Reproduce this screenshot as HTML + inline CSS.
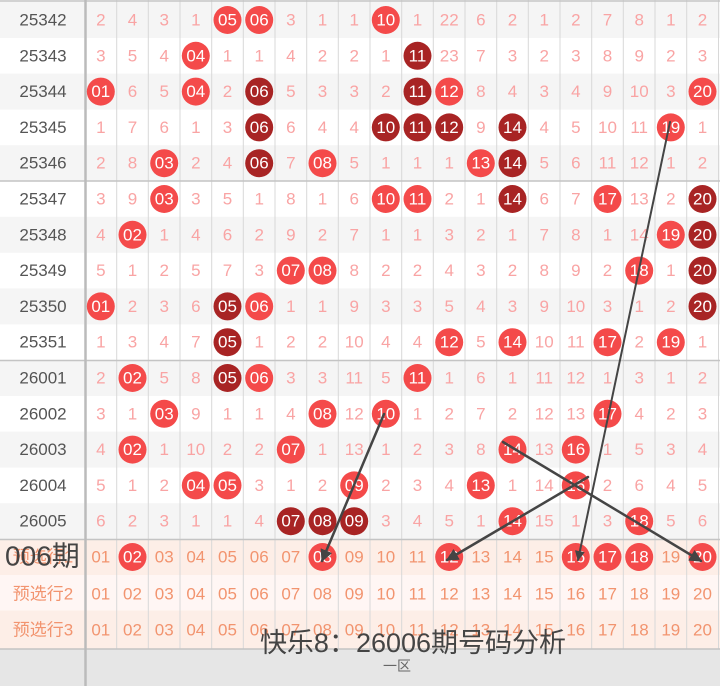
<!DOCTYPE html>
<html><head><meta charset="utf-8"><style>
html,body{margin:0;padding:0;background:#fff;}
svg{display:block}
text{font-family:"Liberation Sans","Noto Sans CJK SC",sans-serif;font-size:17px;text-anchor:middle;dominant-baseline:central;}
.m{fill:#f9a4a4}.b{fill:#fff}.p{fill:#555}.o{fill:#f2946f}
.r{fill:#f44a4a}.d{fill:#a82424}
</style></head><body>
<svg width="720" height="686" viewBox="0 0 720 686" xmlns="http://www.w3.org/2000/svg">
<defs><marker id="ah" viewBox="0 0 10 10" refX="9" refY="5" markerWidth="5" markerHeight="5" orient="auto"><path d="M0,0 L10,5 L0,10 z" fill="#444"/></marker></defs>
<rect x="0" y="0" width="720" height="686" fill="#fff"/>
<g fill="#f5f5f5">
<rect x="0" y="2" width="720" height="36"/><rect x="0" y="73.6" width="720" height="36"/><rect x="0" y="145.2" width="720" height="36"/>
<rect x="0" y="216.8" width="720" height="36"/><rect x="0" y="288.4" width="720" height="36"/><rect x="0" y="360" width="720" height="36"/>
<rect x="0" y="431.6" width="720" height="36"/><rect x="0" y="503.2" width="720" height="36"/>
</g>
<rect x="0" y="539" width="720" height="36" fill="#fdeee7"/>
<rect x="0" y="575" width="720" height="36" fill="#fff6f4"/>
<rect x="0" y="610.6" width="720" height="38" fill="#fdeee7"/>
<rect x="0" y="649" width="720" height="37" fill="#e6e6e6"/>
<g stroke="#d8d8d8" stroke-width="1">
<line x1="116.7" y1="0" x2="116.7" y2="649"/><line x1="148.3" y1="0" x2="148.3" y2="649"/><line x1="180" y1="0" x2="180" y2="649"/><line x1="211.7" y1="0" x2="211.7" y2="649"/><line x1="243.3" y1="0" x2="243.3" y2="649"/><line x1="275" y1="0" x2="275" y2="649"/><line x1="306.7" y1="0" x2="306.7" y2="649"/><line x1="338.3" y1="0" x2="338.3" y2="649"/><line x1="370" y1="0" x2="370" y2="649"/><line x1="401.7" y1="0" x2="401.7" y2="649"/><line x1="433.3" y1="0" x2="433.3" y2="649"/><line x1="465" y1="0" x2="465" y2="649"/><line x1="496.7" y1="0" x2="496.7" y2="649"/><line x1="528.3" y1="0" x2="528.3" y2="649"/><line x1="560" y1="0" x2="560" y2="649"/><line x1="591.7" y1="0" x2="591.7" y2="649"/><line x1="623.3" y1="0" x2="623.3" y2="649"/><line x1="655" y1="0" x2="655" y2="649"/><line x1="686.7" y1="0" x2="686.7" y2="649"/><line x1="718.5" y1="0" x2="718.5" y2="649"/>
</g>
<g stroke="#c4c4c4" stroke-width="1.5">
<line x1="0" y1="1" x2="720" y2="1"/><line x1="0" y1="181" x2="720" y2="181"/><line x1="0" y1="360.5" x2="720" y2="360.5"/><line x1="0" y1="539.5" x2="720" y2="539.5"/><line x1="0" y1="649" x2="720" y2="649"/>
</g>
<line x1="85.5" y1="0" x2="85.5" y2="686" stroke="#bbb" stroke-width="2.5"/>

<g transform="translate(0,20)">
<text class="p" x="43" y="0">25342</text>
<text class="m" x="100.8" y="0">2</text><text class="m" x="132.5" y="0">4</text><text class="m" x="164.2" y="0">3</text><text class="m" x="195.8" y="0">1</text>
<circle class="r" cx="227.5" cy="0" r="14"/><text class="b" x="227.5" y="0">05</text>
<circle class="r" cx="259.2" cy="0" r="14"/><text class="b" x="259.2" y="0">06</text>
<text class="m" x="290.8" y="0">3</text><text class="m" x="322.5" y="0">1</text><text class="m" x="354.2" y="0">1</text>
<circle class="r" cx="385.8" cy="0" r="14"/><text class="b" x="385.8" y="0">10</text>
<text class="m" x="417.5" y="0">1</text><text class="m" x="449.2" y="0">22</text><text class="m" x="480.8" y="0">6</text><text class="m" x="512.5" y="0">2</text><text class="m" x="544.2" y="0">1</text><text class="m" x="575.8" y="0">2</text><text class="m" x="607.5" y="0">7</text><text class="m" x="639.2" y="0">8</text><text class="m" x="670.8" y="0">1</text><text class="m" x="702.5" y="0">2</text>
</g>
<g transform="translate(0,55.8)">
<text class="p" x="43" y="0">25343</text>
<text class="m" x="100.8" y="0">3</text><text class="m" x="132.5" y="0">5</text><text class="m" x="164.2" y="0">4</text>
<circle class="r" cx="195.8" cy="0" r="14"/><text class="b" x="195.8" y="0">04</text>
<text class="m" x="227.5" y="0">1</text><text class="m" x="259.2" y="0">1</text><text class="m" x="290.8" y="0">4</text><text class="m" x="322.5" y="0">2</text><text class="m" x="354.2" y="0">2</text><text class="m" x="385.8" y="0">1</text>
<circle class="d" cx="417.5" cy="0" r="14"/><text class="b" x="417.5" y="0">11</text>
<text class="m" x="449.2" y="0">23</text><text class="m" x="480.8" y="0">7</text><text class="m" x="512.5" y="0">3</text><text class="m" x="544.2" y="0">2</text><text class="m" x="575.8" y="0">3</text><text class="m" x="607.5" y="0">8</text><text class="m" x="639.2" y="0">9</text><text class="m" x="670.8" y="0">2</text><text class="m" x="702.5" y="0">3</text>
</g>
<g transform="translate(0,91.6)">
<text class="p" x="43" y="0">25344</text>
<circle class="r" cx="100.8" cy="0" r="14"/><text class="b" x="100.8" y="0">01</text>
<text class="m" x="132.5" y="0">6</text><text class="m" x="164.2" y="0">5</text>
<circle class="r" cx="195.8" cy="0" r="14"/><text class="b" x="195.8" y="0">04</text>
<text class="m" x="227.5" y="0">2</text>
<circle class="d" cx="259.2" cy="0" r="14"/><text class="b" x="259.2" y="0">06</text>
<text class="m" x="290.8" y="0">5</text><text class="m" x="322.5" y="0">3</text><text class="m" x="354.2" y="0">3</text><text class="m" x="385.8" y="0">2</text>
<circle class="d" cx="417.5" cy="0" r="14"/><text class="b" x="417.5" y="0">11</text>
<circle class="r" cx="449.2" cy="0" r="14"/><text class="b" x="449.2" y="0">12</text>
<text class="m" x="480.8" y="0">8</text><text class="m" x="512.5" y="0">4</text><text class="m" x="544.2" y="0">3</text><text class="m" x="575.8" y="0">4</text><text class="m" x="607.5" y="0">9</text><text class="m" x="639.2" y="0">10</text><text class="m" x="670.8" y="0">3</text>
<circle class="r" cx="702.5" cy="0" r="14"/><text class="b" x="702.5" y="0">20</text>
</g>
<g transform="translate(0,127.4)">
<text class="p" x="43" y="0">25345</text>
<text class="m" x="100.8" y="0">1</text><text class="m" x="132.5" y="0">7</text><text class="m" x="164.2" y="0">6</text><text class="m" x="195.8" y="0">1</text><text class="m" x="227.5" y="0">3</text>
<circle class="d" cx="259.2" cy="0" r="14"/><text class="b" x="259.2" y="0">06</text>
<text class="m" x="290.8" y="0">6</text><text class="m" x="322.5" y="0">4</text><text class="m" x="354.2" y="0">4</text>
<circle class="d" cx="385.8" cy="0" r="14"/><text class="b" x="385.8" y="0">10</text>
<circle class="d" cx="417.5" cy="0" r="14"/><text class="b" x="417.5" y="0">11</text>
<circle class="d" cx="449.2" cy="0" r="14"/><text class="b" x="449.2" y="0">12</text>
<text class="m" x="480.8" y="0">9</text>
<circle class="d" cx="512.5" cy="0" r="14"/><text class="b" x="512.5" y="0">14</text>
<text class="m" x="544.2" y="0">4</text><text class="m" x="575.8" y="0">5</text><text class="m" x="607.5" y="0">10</text><text class="m" x="639.2" y="0">11</text>
<circle class="r" cx="670.8" cy="0" r="14"/><text class="b" x="670.8" y="0">19</text>
<text class="m" x="702.5" y="0">1</text>
</g>
<g transform="translate(0,163.2)">
<text class="p" x="43" y="0">25346</text>
<text class="m" x="100.8" y="0">2</text><text class="m" x="132.5" y="0">8</text>
<circle class="r" cx="164.2" cy="0" r="14"/><text class="b" x="164.2" y="0">03</text>
<text class="m" x="195.8" y="0">2</text><text class="m" x="227.5" y="0">4</text>
<circle class="d" cx="259.2" cy="0" r="14"/><text class="b" x="259.2" y="0">06</text>
<text class="m" x="290.8" y="0">7</text>
<circle class="r" cx="322.5" cy="0" r="14"/><text class="b" x="322.5" y="0">08</text>
<text class="m" x="354.2" y="0">5</text><text class="m" x="385.8" y="0">1</text><text class="m" x="417.5" y="0">1</text><text class="m" x="449.2" y="0">1</text>
<circle class="r" cx="480.8" cy="0" r="14"/><text class="b" x="480.8" y="0">13</text>
<circle class="d" cx="512.5" cy="0" r="14"/><text class="b" x="512.5" y="0">14</text>
<text class="m" x="544.2" y="0">5</text><text class="m" x="575.8" y="0">6</text><text class="m" x="607.5" y="0">11</text><text class="m" x="639.2" y="0">12</text><text class="m" x="670.8" y="0">1</text><text class="m" x="702.5" y="0">2</text>
</g>
<g transform="translate(0,199)">
<text class="p" x="43" y="0">25347</text>
<text class="m" x="100.8" y="0">3</text><text class="m" x="132.5" y="0">9</text>
<circle class="r" cx="164.2" cy="0" r="14"/><text class="b" x="164.2" y="0">03</text>
<text class="m" x="195.8" y="0">3</text><text class="m" x="227.5" y="0">5</text><text class="m" x="259.2" y="0">1</text><text class="m" x="290.8" y="0">8</text><text class="m" x="322.5" y="0">1</text><text class="m" x="354.2" y="0">6</text>
<circle class="r" cx="385.8" cy="0" r="14"/><text class="b" x="385.8" y="0">10</text>
<circle class="r" cx="417.5" cy="0" r="14"/><text class="b" x="417.5" y="0">11</text>
<text class="m" x="449.2" y="0">2</text><text class="m" x="480.8" y="0">1</text>
<circle class="d" cx="512.5" cy="0" r="14"/><text class="b" x="512.5" y="0">14</text>
<text class="m" x="544.2" y="0">6</text><text class="m" x="575.8" y="0">7</text>
<circle class="r" cx="607.5" cy="0" r="14"/><text class="b" x="607.5" y="0">17</text>
<text class="m" x="639.2" y="0">13</text><text class="m" x="670.8" y="0">2</text>
<circle class="d" cx="702.5" cy="0" r="14"/><text class="b" x="702.5" y="0">20</text>
</g>
<g transform="translate(0,234.8)">
<text class="p" x="43" y="0">25348</text>
<text class="m" x="100.8" y="0">4</text>
<circle class="r" cx="132.5" cy="0" r="14"/><text class="b" x="132.5" y="0">02</text>
<text class="m" x="164.2" y="0">1</text><text class="m" x="195.8" y="0">4</text><text class="m" x="227.5" y="0">6</text><text class="m" x="259.2" y="0">2</text><text class="m" x="290.8" y="0">9</text><text class="m" x="322.5" y="0">2</text><text class="m" x="354.2" y="0">7</text><text class="m" x="385.8" y="0">1</text><text class="m" x="417.5" y="0">1</text><text class="m" x="449.2" y="0">3</text><text class="m" x="480.8" y="0">2</text><text class="m" x="512.5" y="0">1</text><text class="m" x="544.2" y="0">7</text><text class="m" x="575.8" y="0">8</text><text class="m" x="607.5" y="0">1</text><text class="m" x="639.2" y="0">14</text>
<circle class="r" cx="670.8" cy="0" r="14"/><text class="b" x="670.8" y="0">19</text>
<circle class="d" cx="702.5" cy="0" r="14"/><text class="b" x="702.5" y="0">20</text>
</g>
<g transform="translate(0,270.6)">
<text class="p" x="43" y="0">25349</text>
<text class="m" x="100.8" y="0">5</text><text class="m" x="132.5" y="0">1</text><text class="m" x="164.2" y="0">2</text><text class="m" x="195.8" y="0">5</text><text class="m" x="227.5" y="0">7</text><text class="m" x="259.2" y="0">3</text>
<circle class="r" cx="290.8" cy="0" r="14"/><text class="b" x="290.8" y="0">07</text>
<circle class="r" cx="322.5" cy="0" r="14"/><text class="b" x="322.5" y="0">08</text>
<text class="m" x="354.2" y="0">8</text><text class="m" x="385.8" y="0">2</text><text class="m" x="417.5" y="0">2</text><text class="m" x="449.2" y="0">4</text><text class="m" x="480.8" y="0">3</text><text class="m" x="512.5" y="0">2</text><text class="m" x="544.2" y="0">8</text><text class="m" x="575.8" y="0">9</text><text class="m" x="607.5" y="0">2</text>
<circle class="r" cx="639.2" cy="0" r="14"/><text class="b" x="639.2" y="0">18</text>
<text class="m" x="670.8" y="0">1</text>
<circle class="d" cx="702.5" cy="0" r="14"/><text class="b" x="702.5" y="0">20</text>
</g>
<g transform="translate(0,306.4)">
<text class="p" x="43" y="0">25350</text>
<circle class="r" cx="100.8" cy="0" r="14"/><text class="b" x="100.8" y="0">01</text>
<text class="m" x="132.5" y="0">2</text><text class="m" x="164.2" y="0">3</text><text class="m" x="195.8" y="0">6</text>
<circle class="d" cx="227.5" cy="0" r="14"/><text class="b" x="227.5" y="0">05</text>
<circle class="r" cx="259.2" cy="0" r="14"/><text class="b" x="259.2" y="0">06</text>
<text class="m" x="290.8" y="0">1</text><text class="m" x="322.5" y="0">1</text><text class="m" x="354.2" y="0">9</text><text class="m" x="385.8" y="0">3</text><text class="m" x="417.5" y="0">3</text><text class="m" x="449.2" y="0">5</text><text class="m" x="480.8" y="0">4</text><text class="m" x="512.5" y="0">3</text><text class="m" x="544.2" y="0">9</text><text class="m" x="575.8" y="0">10</text><text class="m" x="607.5" y="0">3</text><text class="m" x="639.2" y="0">1</text><text class="m" x="670.8" y="0">2</text>
<circle class="d" cx="702.5" cy="0" r="14"/><text class="b" x="702.5" y="0">20</text>
</g>
<g transform="translate(0,342.2)">
<text class="p" x="43" y="0">25351</text>
<text class="m" x="100.8" y="0">1</text><text class="m" x="132.5" y="0">3</text><text class="m" x="164.2" y="0">4</text><text class="m" x="195.8" y="0">7</text>
<circle class="d" cx="227.5" cy="0" r="14"/><text class="b" x="227.5" y="0">05</text>
<text class="m" x="259.2" y="0">1</text><text class="m" x="290.8" y="0">2</text><text class="m" x="322.5" y="0">2</text><text class="m" x="354.2" y="0">10</text><text class="m" x="385.8" y="0">4</text><text class="m" x="417.5" y="0">4</text>
<circle class="r" cx="449.2" cy="0" r="14"/><text class="b" x="449.2" y="0">12</text>
<text class="m" x="480.8" y="0">5</text>
<circle class="r" cx="512.5" cy="0" r="14"/><text class="b" x="512.5" y="0">14</text>
<text class="m" x="544.2" y="0">10</text><text class="m" x="575.8" y="0">11</text>
<circle class="r" cx="607.5" cy="0" r="14"/><text class="b" x="607.5" y="0">17</text>
<text class="m" x="639.2" y="0">2</text>
<circle class="r" cx="670.8" cy="0" r="14"/><text class="b" x="670.8" y="0">19</text>
<text class="m" x="702.5" y="0">1</text>
</g>
<g transform="translate(0,378)">
<text class="p" x="43" y="0">26001</text>
<text class="m" x="100.8" y="0">2</text>
<circle class="r" cx="132.5" cy="0" r="14"/><text class="b" x="132.5" y="0">02</text>
<text class="m" x="164.2" y="0">5</text><text class="m" x="195.8" y="0">8</text>
<circle class="d" cx="227.5" cy="0" r="14"/><text class="b" x="227.5" y="0">05</text>
<circle class="r" cx="259.2" cy="0" r="14"/><text class="b" x="259.2" y="0">06</text>
<text class="m" x="290.8" y="0">3</text><text class="m" x="322.5" y="0">3</text><text class="m" x="354.2" y="0">11</text><text class="m" x="385.8" y="0">5</text>
<circle class="r" cx="417.5" cy="0" r="14"/><text class="b" x="417.5" y="0">11</text>
<text class="m" x="449.2" y="0">1</text><text class="m" x="480.8" y="0">6</text><text class="m" x="512.5" y="0">1</text><text class="m" x="544.2" y="0">11</text><text class="m" x="575.8" y="0">12</text><text class="m" x="607.5" y="0">1</text><text class="m" x="639.2" y="0">3</text><text class="m" x="670.8" y="0">1</text><text class="m" x="702.5" y="0">2</text>
</g>
<g transform="translate(0,413.8)">
<text class="p" x="43" y="0">26002</text>
<text class="m" x="100.8" y="0">3</text><text class="m" x="132.5" y="0">1</text>
<circle class="r" cx="164.2" cy="0" r="14"/><text class="b" x="164.2" y="0">03</text>
<text class="m" x="195.8" y="0">9</text><text class="m" x="227.5" y="0">1</text><text class="m" x="259.2" y="0">1</text><text class="m" x="290.8" y="0">4</text>
<circle class="r" cx="322.5" cy="0" r="14"/><text class="b" x="322.5" y="0">08</text>
<text class="m" x="354.2" y="0">12</text>
<circle class="r" cx="385.8" cy="0" r="14"/><text class="b" x="385.8" y="0">10</text>
<text class="m" x="417.5" y="0">1</text><text class="m" x="449.2" y="0">2</text><text class="m" x="480.8" y="0">7</text><text class="m" x="512.5" y="0">2</text><text class="m" x="544.2" y="0">12</text><text class="m" x="575.8" y="0">13</text>
<circle class="r" cx="607.5" cy="0" r="14"/><text class="b" x="607.5" y="0">17</text>
<text class="m" x="639.2" y="0">4</text><text class="m" x="670.8" y="0">2</text><text class="m" x="702.5" y="0">3</text>
</g>
<g transform="translate(0,449.6)">
<text class="p" x="43" y="0">26003</text>
<text class="m" x="100.8" y="0">4</text>
<circle class="r" cx="132.5" cy="0" r="14"/><text class="b" x="132.5" y="0">02</text>
<text class="m" x="164.2" y="0">1</text><text class="m" x="195.8" y="0">10</text><text class="m" x="227.5" y="0">2</text><text class="m" x="259.2" y="0">2</text>
<circle class="r" cx="290.8" cy="0" r="14"/><text class="b" x="290.8" y="0">07</text>
<text class="m" x="322.5" y="0">1</text><text class="m" x="354.2" y="0">13</text><text class="m" x="385.8" y="0">1</text><text class="m" x="417.5" y="0">2</text><text class="m" x="449.2" y="0">3</text><text class="m" x="480.8" y="0">8</text>
<circle class="r" cx="512.5" cy="0" r="14"/><text class="b" x="512.5" y="0">14</text>
<text class="m" x="544.2" y="0">13</text>
<circle class="r" cx="575.8" cy="0" r="14"/><text class="b" x="575.8" y="0">16</text>
<text class="m" x="607.5" y="0">1</text><text class="m" x="639.2" y="0">5</text><text class="m" x="670.8" y="0">3</text><text class="m" x="702.5" y="0">4</text>
</g>
<g transform="translate(0,485.4)">
<text class="p" x="43" y="0">26004</text>
<text class="m" x="100.8" y="0">5</text><text class="m" x="132.5" y="0">1</text><text class="m" x="164.2" y="0">2</text>
<circle class="r" cx="195.8" cy="0" r="14"/><text class="b" x="195.8" y="0">04</text>
<circle class="r" cx="227.5" cy="0" r="14"/><text class="b" x="227.5" y="0">05</text>
<text class="m" x="259.2" y="0">3</text><text class="m" x="290.8" y="0">1</text><text class="m" x="322.5" y="0">2</text>
<circle class="r" cx="354.2" cy="0" r="14"/><text class="b" x="354.2" y="0">09</text>
<text class="m" x="385.8" y="0">2</text><text class="m" x="417.5" y="0">3</text><text class="m" x="449.2" y="0">4</text>
<circle class="r" cx="480.8" cy="0" r="14"/><text class="b" x="480.8" y="0">13</text>
<text class="m" x="512.5" y="0">1</text><text class="m" x="544.2" y="0">14</text>
<circle class="r" cx="575.8" cy="0" r="14"/><text class="b" x="575.8" y="0">16</text>
<text class="m" x="607.5" y="0">2</text><text class="m" x="639.2" y="0">6</text><text class="m" x="670.8" y="0">4</text><text class="m" x="702.5" y="0">5</text>
</g>
<g transform="translate(0,521.2)">
<text class="p" x="43" y="0">26005</text>
<text class="m" x="100.8" y="0">6</text><text class="m" x="132.5" y="0">2</text><text class="m" x="164.2" y="0">3</text><text class="m" x="195.8" y="0">1</text><text class="m" x="227.5" y="0">1</text><text class="m" x="259.2" y="0">4</text>
<circle class="d" cx="290.8" cy="0" r="14"/><text class="b" x="290.8" y="0">07</text>
<circle class="d" cx="322.5" cy="0" r="14"/><text class="b" x="322.5" y="0">08</text>
<circle class="d" cx="354.2" cy="0" r="14"/><text class="b" x="354.2" y="0">09</text>
<text class="m" x="385.8" y="0">3</text><text class="m" x="417.5" y="0">4</text><text class="m" x="449.2" y="0">5</text><text class="m" x="480.8" y="0">1</text>
<circle class="r" cx="512.5" cy="0" r="14"/><text class="b" x="512.5" y="0">14</text>
<text class="m" x="544.2" y="0">15</text><text class="m" x="575.8" y="0">1</text><text class="m" x="607.5" y="0">3</text>
<circle class="r" cx="639.2" cy="0" r="14"/><text class="b" x="639.2" y="0">18</text>
<text class="m" x="670.8" y="0">5</text><text class="m" x="702.5" y="0">6</text>
</g>
<g transform="translate(0,557)">
<text class="o" x="43" y="0">预选行1</text>
<text class="o" x="100.8" y="0">01</text>
<circle class="r" cx="132.5" cy="0" r="14"/><text class="b" x="132.5" y="0">02</text>
<text class="o" x="164.2" y="0">03</text><text class="o" x="195.8" y="0">04</text><text class="o" x="227.5" y="0">05</text><text class="o" x="259.2" y="0">06</text><text class="o" x="290.8" y="0">07</text>
<circle class="r" cx="322.5" cy="0" r="14"/><text class="b" x="322.5" y="0">08</text>
<text class="o" x="354.2" y="0">09</text><text class="o" x="385.8" y="0">10</text><text class="o" x="417.5" y="0">11</text>
<circle class="r" cx="449.2" cy="0" r="14"/><text class="b" x="449.2" y="0">12</text>
<text class="o" x="480.8" y="0">13</text><text class="o" x="512.5" y="0">14</text><text class="o" x="544.2" y="0">15</text>
<circle class="r" cx="575.8" cy="0" r="14"/><text class="b" x="575.8" y="0">16</text>
<circle class="r" cx="607.5" cy="0" r="14"/><text class="b" x="607.5" y="0">17</text>
<circle class="r" cx="639.2" cy="0" r="14"/><text class="b" x="639.2" y="0">18</text>
<text class="o" x="670.8" y="0">19</text>
<circle class="r" cx="702.5" cy="0" r="14"/><text class="b" x="702.5" y="0">20</text>
</g>
<g transform="translate(0,593.8)">
<text class="o" x="43" y="0">预选行2</text>
<text class="o" x="100.8" y="0">01</text><text class="o" x="132.5" y="0">02</text><text class="o" x="164.2" y="0">03</text><text class="o" x="195.8" y="0">04</text><text class="o" x="227.5" y="0">05</text><text class="o" x="259.2" y="0">06</text><text class="o" x="290.8" y="0">07</text><text class="o" x="322.5" y="0">08</text><text class="o" x="354.2" y="0">09</text><text class="o" x="385.8" y="0">10</text><text class="o" x="417.5" y="0">11</text><text class="o" x="449.2" y="0">12</text><text class="o" x="480.8" y="0">13</text><text class="o" x="512.5" y="0">14</text><text class="o" x="544.2" y="0">15</text><text class="o" x="575.8" y="0">16</text><text class="o" x="607.5" y="0">17</text><text class="o" x="639.2" y="0">18</text><text class="o" x="670.8" y="0">19</text><text class="o" x="702.5" y="0">20</text>
</g>
<g transform="translate(0,630)">
<text class="o" x="43" y="0">预选行3</text>
<text class="o" x="100.8" y="0">01</text><text class="o" x="132.5" y="0">02</text><text class="o" x="164.2" y="0">03</text><text class="o" x="195.8" y="0">04</text><text class="o" x="227.5" y="0">05</text><text class="o" x="259.2" y="0">06</text><text class="o" x="290.8" y="0">07</text><text class="o" x="322.5" y="0">08</text><text class="o" x="354.2" y="0">09</text><text class="o" x="385.8" y="0">10</text><text class="o" x="417.5" y="0">11</text><text class="o" x="449.2" y="0">12</text><text class="o" x="480.8" y="0">13</text><text class="o" x="512.5" y="0">14</text><text class="o" x="544.2" y="0">15</text><text class="o" x="575.8" y="0">16</text><text class="o" x="607.5" y="0">17</text><text class="o" x="639.2" y="0">18</text><text class="o" x="670.8" y="0">19</text><text class="o" x="702.5" y="0">20</text>
</g>
<text x="397" y="666" style="font-size:14px;fill:#666">一区</text>
<g stroke="#454545" fill="none" stroke-linecap="round">
<line x1="384" y1="414" x2="322" y2="561" stroke-width="2.5" marker-end="url(#ah)"/>
<line x1="670" y1="122" x2="578" y2="560" stroke-width="2" marker-end="url(#ah)"/>
<line x1="503" y1="442" x2="701" y2="561" stroke-width="2.5" marker-end="url(#ah)"/>
<line x1="588" y1="477" x2="447" y2="560" stroke-width="2.5" marker-end="url(#ah)"/>
</g>
<text x="5" y="556" style="text-anchor:start;font-size:28px;fill:#444">006期</text>
<text x="413" y="643" style="font-size:27px;fill:#444">快乐8：26006期号码分析</text>
</svg>
</body></html>
